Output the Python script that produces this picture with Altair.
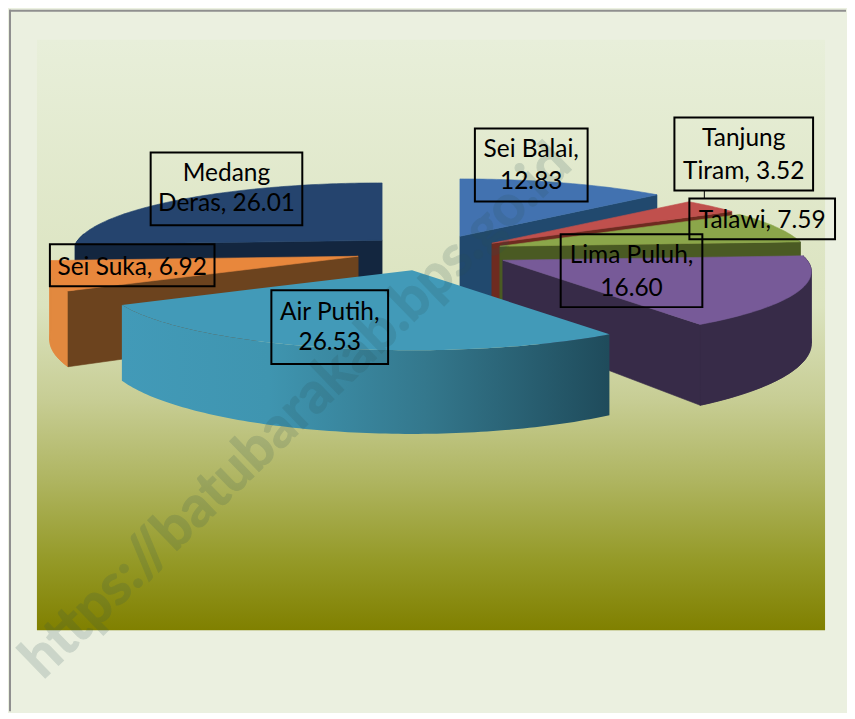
import math
import altair as alt

# ---- data (clockwise from 12 o'clock) ----
names = ["Sei Balai", "Tanjung Tiram", "Talawi", "Lima Puluh", "Air Putih", "Sei Suka", "Medang Deras"]
values = [12.83, 3.52, 7.59, 16.60, 26.53, 6.92, 26.01]
label_lines = [
    ["Sei Balai,", "12.83"],
    ["Tanjung", "Tiram, 3.52"],
    ["Talawi, 7.59"],
    ["Lima Puluh,", "16.60"],
    ["Air Putih,", "26.53"],
    ["Sei Suka, 6.92"],
    ["Medang", "Deras, 26.01"],
]

# ---- styling and layout, kept apart from the data ----
W, H = 847, 711
MARGIN = 8
PAGE = "#ebf0e0"
top_colors = ["#4272b0", "#c0504d", "#8ba64a", "#775a98", "#429ab8", "#e8873c", "#25446e"]
cut_colors = ["#21496e", "#6e2b20", "#4a5a23", "#372b48", "#2f6f85", "#6c431e", "#13263f"]
wall_colors = ["#21496e", "#6e2b20", "#4a5a23", "#372b48", "#3e97b3", "#e2893f", "#1c3557"]
apex = [(460, 235), (492, 242), (500, 245), (503, 259), (412, 269), (358, 255), (382, 239)]
paint_order = [6, 5, 0, 1, 2, 3, 4]
RX, RY, DEPTH, PERSP = 305, 67, 70, 0.165

boxes = [
    (475, 588, 127, 200), (675, 814, 116, 189), (690, 836, 197, 238),
    (561, 703, 233, 306), (271, 388, 289, 363), (49, 214, 243, 285), (150, 302, 151, 224),
]
text_y = [[149, 181], [137, 171], [220], [255, 288], [312, 342], [267], [173, 203]]


def project(i, deg, down=False):
    t = math.radians(deg)
    p = 1 / (1 + PERSP * math.cos(t))
    ax, ay = apex[i]
    return [ax + RX * math.sin(t) * p, ay - RY * math.cos(t) * p + (DEPTH * p if down else 0)]


def apex_pt(i, down=False):
    return [apex[i][0], apex[i][1] + (DEPTH if down else 0)]


def poly(points, color):
    pts = [list(p) for p in points]
    pts.append(pts[0])
    return {"type": "Feature", "properties": {"color": color},
            "geometry": {"type": "Polygon", "coordinates": [pts]}}


def angles(a, b, step=1.0):
    n = max(2, int((b - a) / step) + 1)
    return [a + (b - a) * k / (n - 1) for k in range(n)]


def band(i, degs):
    return poly([project(i, d) for d in degs] + [project(i, d, True) for d in reversed(degs)], wall_colors[i])


total = sum(values)
starts = [0.0]
for v in values:
    starts.append(starts[-1] + v / total * 360)

back, air_wall, air_top = [], [], []
for i in paint_order:
    a, b = starts[i], starts[i + 1]
    cuts = []
    if math.sin(math.radians(a)) < -1e-6:
        cuts.append(a)
    if math.sin(math.radians(b)) > 1e-6:
        cuts.append(b)
    cut_polys = [poly([apex_pt(i), project(i, c), project(i, c, True), apex_pt(i, True)], cut_colors[i])
                 for c in cuts]
    rim = [d for d in angles(a, b) if math.cos(math.radians(d)) < 0.1]
    top = poly([apex_pt(i)] + [project(i, d) for d in angles(a, b)], top_colors[i])
    if names[i] == "Air Putih":
        # one shape that also runs under the top face, so no seam shows along the rim
        air_wall.append(poly(
            [apex_pt(i)] + [project(i, d) for d in rim]
            + [project(i, d, True) for d in reversed(rim)] + [project(i, rim[0])],
            wall_colors[i]))
        air_top.append(top)
    else:
        wall = []
        if len(rim) > 1:
            # the full band, plus its two halves cut at the widest point, so the outline stays convex
            k = max(range(len(rim)), key=lambda n: abs(project(i, rim[n])[0] - apex[i][0]))
            wall = [band(i, rim)]
            if 0 < k:
                wall.append(band(i, rim[:k + 1]))
            if k < len(rim) - 1:
                wall.append(band(i, rim[k:]))
        back += wall + cut_polys + [top]

# ---- scales and projection ----
xs = alt.Scale(domain=[MARGIN, W], nice=False, zero=False)
ys = alt.Scale(domain=[H, MARGIN], nice=False, zero=False)
PROJ = dict(type="identity", scale=1, translate=[-MARGIN, -MARGIN])
X = lambda f: alt.X(f, type="quantitative", scale=xs, axis=None)
Y = lambda f: alt.Y(f, type="quantitative", scale=ys, axis=None)

panel = alt.Chart(alt.Data(values=[{"x": 36, "x2": 826, "y": 38, "y2": 630}])).mark_rect(
    fill=alt.Gradient(
        gradient="linear", x1=0, x2=0, y1=0, y2=1,
        stops=[
            alt.GradientStop(offset=0, color="#e8efda"),
            alt.GradientStop(offset=0.45, color="#dbe3bf"),
            alt.GradientStop(offset=0.61, color="#c7cd94"),
            alt.GradientStop(offset=0.75, color="#aeb45f"),
            alt.GradientStop(offset=0.88, color="#959a28"),
            alt.GradientStop(offset=1, color="#808000"),
        ],
    )
).encode(x=X("x"), x2=alt.X2("x2"), y=Y("y"), y2=alt.Y2("y2"))

frame = alt.Chart(alt.Data(values=[{"x": MARGIN, "x2": W, "y": MARGIN + 1, "y2": MARGIN + 1},
                                   {"x": MARGIN + 1, "x2": MARGIN + 1, "y": MARGIN, "y2": H}])).mark_rule(
    color="#8f8f8f", strokeWidth=2
).encode(x=X("x"), x2=alt.X2("x2"), y=Y("y"), y2=alt.Y2("y2"))

pie_back = alt.Chart(alt.Data(values=back)).mark_geoshape(strokeWidth=0.6).encode(
    fill=alt.Fill("properties.color:N", scale=None),
    stroke=alt.Stroke("properties.color:N", scale=None),
).project(**PROJ)

pie_wall = alt.Chart(alt.Data(values=air_wall)).mark_geoshape(
    strokeWidth=0,
    fill=alt.Gradient(
        gradient="linear", x1=0, x2=1, y1=0, y2=0,
        stops=[
            alt.GradientStop(offset=0, color="#429ab8"),
            alt.GradientStop(offset=0.3, color="#3f95b0"),
            alt.GradientStop(offset=0.62, color="#34788d"),
            alt.GradientStop(offset=1, color="#1f4b5b"),
        ],
    ),
).project(**PROJ)

pie_top = alt.Chart(alt.Data(values=air_top)).mark_geoshape(strokeWidth=0, fill=top_colors[4]).project(**PROJ)

watermark = alt.Chart(alt.Data(values=[{"x": 30, "y": 668, "t": "https://batubarakab.bps.go.id"}])).mark_text(
    angle=316, align="left", baseline="middle", font="Lato", fontWeight="bold", fontSize=57,
    color="#2a5054", stroke="#2a5054", strokeWidth=1, opacity=0.16,
).encode(x=X("x"), y=Y("y"), text="t:N")

box_rows = [{"x": b[0], "x2": b[1], "y": b[2], "y2": b[3]} for b in boxes]
label_boxes = alt.Chart(alt.Data(values=box_rows)).mark_rect(
    fillOpacity=0, stroke="#000000", strokeWidth=2
).encode(x=X("x"), x2=alt.X2("x2"), y=Y("y"), y2=alt.Y2("y2"))

leader = alt.Chart(alt.Data(values=[{"x": 705, "y": 189, "y2": 197}])).mark_rule(
    color="#000000", strokeWidth=1
).encode(x=X("x"), y=Y("y"), y2=alt.Y2("y2"))

text_rows = []
for b, lines, tys in zip(boxes, label_lines, text_y):
    for line, ty in zip(lines, tys):
        text_rows.append({"x": (b[0] + b[1]) / 2, "y": ty, "t": line})
labels = alt.Chart(alt.Data(values=text_rows)).mark_text(
    align="center", baseline="middle", font="Lato", fontSize=24.5, color="#000000"
).encode(x=X("x"), y=Y("y"), text="t:N")

chart = alt.layer(panel, frame, pie_back, pie_wall, pie_top, watermark, label_boxes, leader, labels).properties(
    width=W - MARGIN, height=H - MARGIN, padding=0, background=PAGE
).configure_view(stroke=None)

chart.save("out.html", embed_options={"renderer": "svg", "actions": False})
